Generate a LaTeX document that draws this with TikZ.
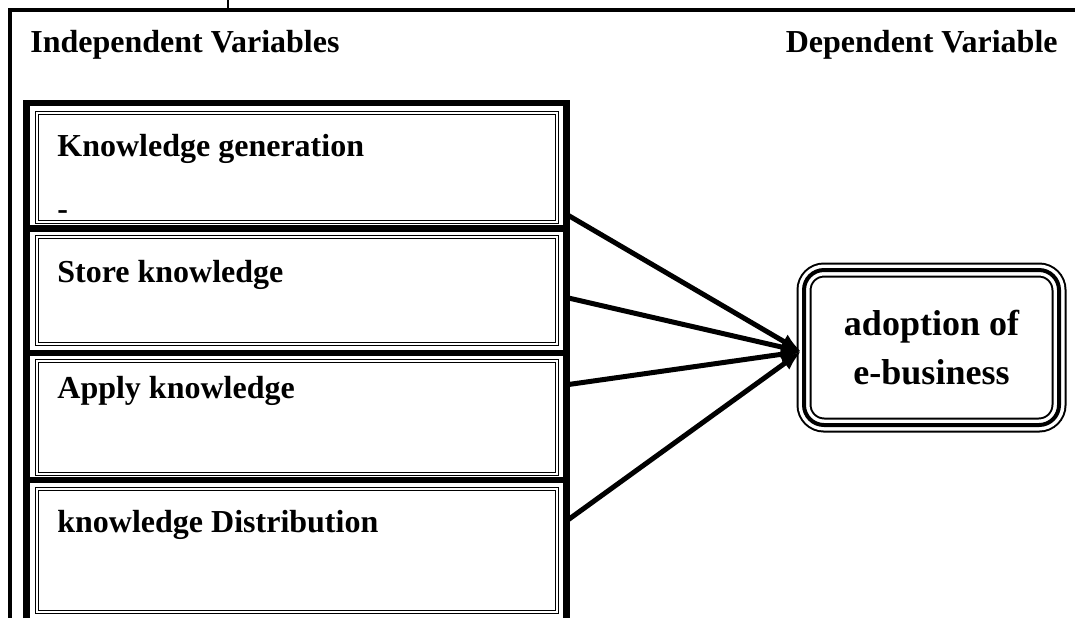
\documentclass[tikz,border=0pt]{standalone}
\usepackage{fontspec}
\setmainfont{Liberation Serif}
\usetikzlibrary{arrows.meta}

\begin{document}
\begin{tikzpicture}[x=0.5pt,y=-0.5pt,
		heading/.style={font=\fontsize{16}{19}\selectfont\bfseries, inner sep=0pt, anchor=base west},
		cell/.style={draw, double, line width=0.5pt, double distance=1pt, inner sep=0pt, minimum width=260pt},
		dvbox/.style={draw, line width=2pt, rounded corners=10pt, inner sep=0pt, minimum width=127.5pt, minimum height=77.5pt,
			align=center, font=\fontsize{18}{24.5}\selectfont\bfseries,
			preaction={draw, line width=7.5pt}, preaction={draw=white, line width=5.5pt}},
		link/.style={-{Latex[length=10pt,width=8pt]}, line width=2.5pt}]
				\useasboundingbox (0,0) rectangle (1075,618);
				% page frame
				\draw[line width=0.8pt] (228,0) -- (228,10);
				\draw[line width=1.6pt] (1075,10) -- (10,10) -- (10,618);
				% headings
				\node[heading] (ivhead) at (30,52) {Independent Variables};
				\node[heading, anchor=base east] (dvhead) at (1058,52) {Dependent Variable};

				% cells
				\node[cell, minimum height=54.5pt] (kg) at (297,167.5) {};
				\node[cell, minimum height=53.5pt] (sk) at (297,290.5) {};
				\node[cell, minimum height=56.5pt] (ak) at (297,417.5) {};
				\node[cell, minimum height=61.5pt] (kd) at (297,550.5) {};
				% thick frame
				\draw[line width=3.25pt] (26.5,618) -- (26.5,103) -- (566.5,103) -- (566.5,618);
				\foreach \y in {228.5, 353, 480}
					\draw[line width=3.25pt] (26.5,\y) -- (566.5,\y);
				% cell texts
				\node[heading] (kgtext) at (57,156) {Knowledge generation};
				\node[heading] (kgdash) at (57,219) {-};
				\node[heading] (sktext) at (57,282) {Store knowledge};
				\node[heading] (aktext) at (57,398) {Apply knowledge};
				\node[heading] (kdtext) at (57,532) {knowledge Distribution};

				% dependent variable
				\node[dvbox] (ad) at (931.5,347.5) {adoption of\\e-business};

				% arrows
				\draw[link] ([shift={(11,-7)}]kg.south east) -- ([shift={(-1,4)}]ad.west);
				\draw[link] ([shift={(11,7.5)}]sk.east) -- ([shift={(-1,4)}]ad.west);
				\draw[link] ([shift={(11,24)}]ak.north east) -- ([shift={(-1,4)}]ad.west);
				\draw[link] ([shift={(11,31)}]kd.north east) -- ([shift={(-1,4)}]ad.west);
			\end{tikzpicture}
\end{document}
